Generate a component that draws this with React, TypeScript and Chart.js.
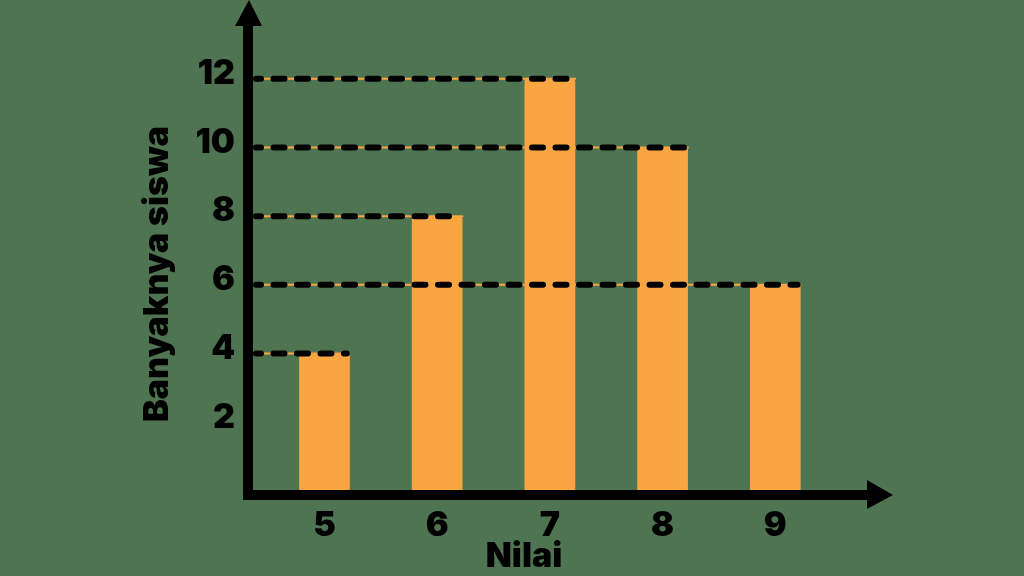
import React, { useEffect, useRef } from "react";
import { Chart, registerables } from "chart.js";

Chart.register(...registerables);

const categories = [5, 6, 7, 8, 9];
const counts = [4, 8, 12, 10, 6];
const yTickValues = [2, 4, 6, 8, 10, 12];
const xTitle = "Nilai";
const yTitle = "Banyaknya siswa";

const BG = "#4e7451";
const ORANGE = "#f9a541";
const FONT = "Inter";
const WEIGHT = "900";

const decorPlugin = {
  id: "decor",
  afterDatasetsDraw(chart: any) {
    const { ctx, chartArea, scales } = chart;
    const meta = chart.getDatasetMeta(0);
    const left = chartArea.left;
    const bottom = chartArea.bottom;
    ctx.save();
    // dashed guide lines from axis to bar's right edge
    meta.data.forEach((bar: any, i: number) => {
      const y = scales.y.getPixelForValue(counts[i]);
      const xEnd = bar.x + bar.width / 2;
      ctx.setLineDash([]);
      ctx.strokeStyle = ORANGE;
      ctx.lineWidth = 2;
      ctx.beginPath();
      ctx.moveTo(left, y);
      ctx.lineTo(xEnd, y);
      ctx.stroke();
      ctx.strokeStyle = "#000";
      ctx.lineWidth = 6;
      ctx.lineCap = "round";
      ctx.setLineDash([11, 12.5]);
      ctx.lineDashOffset = 6;
      ctx.beginPath();
      ctx.moveTo(left + 3, y);
      ctx.lineTo(xEnd - 3, y);
      ctx.stroke();
    });
    ctx.setLineDash([]);
    ctx.lineCap = "butt";
    ctx.fillStyle = "#000";
    // y axis
    ctx.fillRect(left - 10, 20, 10, bottom + 9 - 20);
    // x axis
    ctx.fillRect(left - 10, bottom - 1, 870 - (left - 10), 10);
    // arrows
    ctx.beginPath();
    ctx.moveTo(left - 4, 0);
    ctx.lineTo(left + 9, 26);
    ctx.lineTo(left - 18, 26);
    ctx.closePath();
    ctx.fill();
    ctx.beginPath();
    ctx.moveTo(893, bottom + 4);
    ctx.lineTo(867, bottom - 11);
    ctx.lineTo(867, bottom + 18);
    ctx.closePath();
    ctx.fill();
    // titles
    ctx.font = `${WEIGHT} 34px ${FONT}`;
    ctx.textAlign = "center";
    ctx.textBaseline = "middle";
    ctx.fillText(xTitle, 524, 557);
    ctx.translate(158, 274);
    ctx.rotate(-Math.PI / 2);
    ctx.fillText(yTitle, 0, 0);
    ctx.restore();
  },
};

const zeroPad = (s: any) => {
  s.paddingTop = 0;
  s.paddingBottom = 0;
  s.paddingLeft = 0;
  s.paddingRight = 0;
};

export default function App() {
  const ref = useRef<HTMLCanvasElement>(null);
  useEffect(() => {
    const chart = new Chart(ref.current as HTMLCanvasElement, {
      type: "bar",
      data: {
        datasets: [
          {
            data: categories.map((c, i) => ({ x: c, y: counts[i] })),
            backgroundColor: ORANGE,
            barPercentage: 0.45,
            categoryPercentage: 1,
            borderRadius: 3,
            borderSkipped: "bottom",
          } as any,
        ],
      },
      options: {
        animation: false,
        responsive: false,
        layout: { padding: { top: 10, right: 136, left: 0, bottom: 0 } },
        plugins: { legend: { display: false }, tooltip: { enabled: false } },
        scales: {
          x: {
            type: "linear",
            offset: false,
            min: 4.366,
            max: 10,
            afterBuildTicks: (s: any) => {
              s.ticks = categories.map((v) => ({ value: v }));
            },
            afterFit: (s: any) => {
              s.height = 85;
              zeroPad(s);
            },
            grid: { display: false, drawTicks: false },
            border: { display: false },
            ticks: {
              color: "#000",
              padding: 14,
              font: { family: FONT, size: 34, weight: WEIGHT as any },
              callback: (v: any) => String(v),
            },
          },
          y: {
            min: 0,
            max: 14,
            afterBuildTicks: (s: any) => {
              s.ticks = yTickValues.map((v) => ({ value: v }));
            },
            afterFit: (s: any) => {
              s.width = 253;
              zeroPad(s);
            },
            grid: { display: false, drawTicks: false },
            border: { display: false },
            ticks: {
              color: "#000",
              padding: 18,
              labelOffset: -5,
              font: { family: FONT, size: 34, weight: WEIGHT as any },
              callback: (v: any) => String(v),
            },
          },
        },
      },
      plugins: [decorPlugin],
    });
    return () => chart.destroy();
  }, []);
  return (
    <div
      style={{
        position: "fixed",
        left: 0,
        top: 0,
        width: 1024,
        height: 576,
        background: BG,
      }}
    >
      <canvas ref={ref} width={1024} height={576} style={{ display: "block" }} />
    </div>
  );
}
